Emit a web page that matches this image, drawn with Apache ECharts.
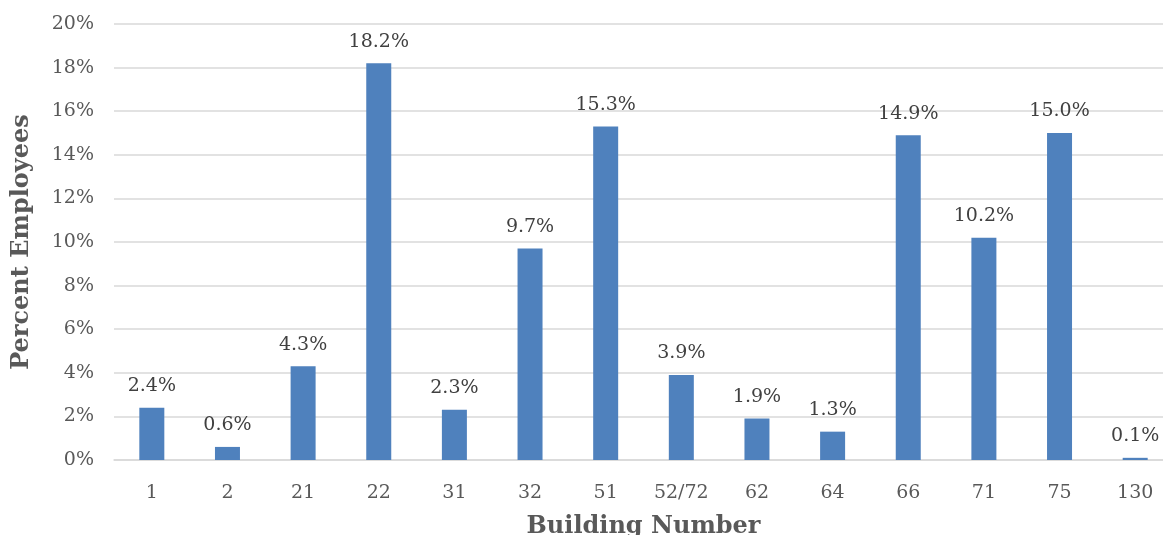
<!DOCTYPE html>
<html><head><meta charset="utf-8">
<script src="https://cdn.jsdelivr.net/npm/echarts@6/dist/echarts.min.js"></script>
<style>html,body{margin:0;padding:0;background:#fff;overflow:hidden}#c{width:1163px;height:535px}</style>
</head><body><div id="c"></div>
<script>
const categories = ['1','2','21','22','31','32','51','52/72','62','64','66','71','75','130'];
const percentEmployees = [2.4, 0.6, 4.3, 18.2, 2.3, 9.7, 15.3, 3.9, 1.9, 1.3, 14.9, 10.2, 15.0, 0.1];
const FONT = '"DejaVu Serif", "Liberation Serif", serif';
const chart = echarts.init(document.getElementById('c'), null, {renderer:'canvas', width:1163, height:535});
chart.setOption({
  animation:false,
  textStyle:{fontFamily:FONT},
  grid:{left:114, right:-10, top:24, bottom:75, containLabel:false, outerBoundsMode:'none'},
  xAxis:{type:'category', data:categories,
    name:'Building Number', nameLocation:'middle', nameGap:55,
    nameTextStyle:{fontFamily:FONT, fontWeight:'bold', fontSize:24, color:'#595959'},
    axisLine:{lineStyle:{color:'#d9d9d9', width:1.5}}, axisTick:{show:false},
    axisLabel:{color:'#595959', fontSize:19, margin:24, fontFamily:FONT}},
  yAxis:{type:'value', min:0, max:20, interval:2,
    name:'Percent Employees', nameLocation:'middle', nameGap:80,
    nameTextStyle:{fontFamily:FONT, fontWeight:'bold', fontSize:24, color:'#595959'},
    axisLine:{show:false}, axisTick:{show:false},
    axisLabel:{color:'#595959', fontSize:19, margin:20, formatter:'{value}%', fontFamily:FONT},
    splitLine:{lineStyle:{color:'#d9d9d9', width:1.5}}},
  series:[{type:'bar', data:percentEmployees, barWidth:25,
    itemStyle:{color:'#4F81BD'},
    label:{show:true, position:'top', distance:12, color:'#404040', fontSize:19, fontFamily:FONT,
      formatter:p=>p.value.toFixed(1)+'%'}}]
});
</script></body></html>
